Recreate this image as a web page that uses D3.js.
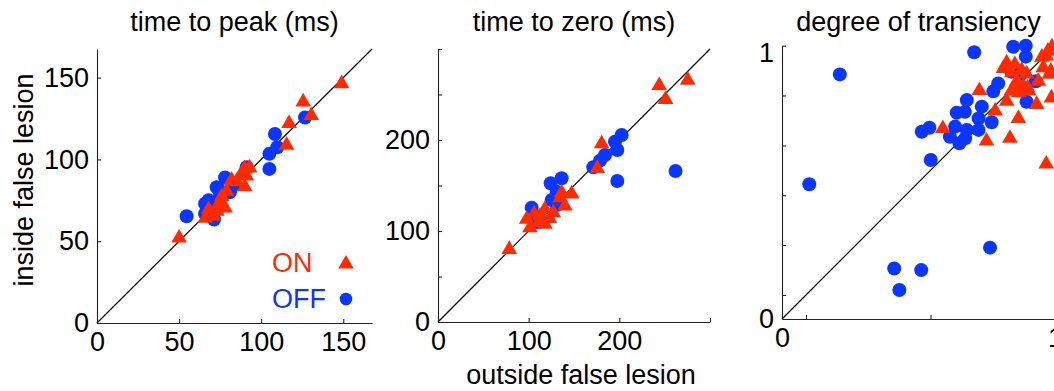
<!DOCTYPE html>
<html>
<head>
<meta charset="utf-8">
<script src="https://cdn.jsdelivr.net/npm/d3@7"></script>
<style>
  body { margin: 0; background: #fff; }
  svg { display: block; }
  text { font-family: "Liberation Sans", Arial, Helvetica, sans-serif; }
</style>
</head>
<body>
<svg id="chart" width="1054" height="391"></svg>
<script>
// ---- data ----
const titles = ['time to peak (ms)', 'time to zero (ms)', 'degree of transiency'];
const legendLabels = ['ON', 'OFF'];

// time to peak : [outside, inside]
const peakOn = [[149,147],[125.6,135.8],[130.5,127.5],[117,122.6],[115.5,109.4],[50,52.6],
  [90,95],[93,95.5],[88,92],[91,90.5],[90,84],[85,87],[79,81],[76,78],[75,75],[78,71],
  [66,64.7],[73,69],[68,70],[82,88],[74,73],[71,66]];
const peakOff = [[54.6,65.3],[65.8,72.9],[65.8,66.8],[71.3,63.3],[72.9,83],[78,89],[81,80],
  [91.2,95.2],[105,103.4],[105,94.2],[108.4,115.5],[109.8,107.4],[126.7,125.6],[68,75],
  [70,70],[75,78],[84,85],[74,82]];

// time to zero
const zeroOn = [[244,261],[275.4,267],[251,245.8],[180.5,197],[175.7,170],[78.6,81],
  [136.4,143.2],[147.5,142],[134.6,137.7],[118,125],[112.5,117.6],[97.8,114],[101.5,104.7],
  [118,108.5],[127.2,121.2],[140,128.6],[110.6,110.2],[106,120],[123,115]];
const zeroOff = [[202.6,205.5],[195.2,198],[197.8,189],[184.2,183.5],[178.7,177.3],[171.3,170],
  [197.8,155],[262,166],[124.3,152.4],[136.4,158],[131,143.2],[125.4,134],[131,128.6],
  [103.3,125.6],[108.9,115.7],[110.6,109.6]];

// degree of transiency
const transOn = [[0.589,0.701],[0.723,0.84],[0.749,0.655],[0.781,0.765],[0.823,0.801],
  [0.835,0.665],[0.866,0.738],[0.933,0.789],[0.968,0.571],[0.987,0.813],[0.823,0.941],
  [0.853,0.935],[0.811,0.921],[0.842,0.905],[0.878,0.914],[0.896,0.901],[0.86,0.874],
  [0.884,0.856],[0.903,0.838],[0.866,0.832],[0.952,0.962],[0.974,0.984],[0.989,1.0],
  [0.957,0.923],[0.939,0.874],[0.985,0.911],[0.969,0.966],[0.86,0.862],[0.84,0.838],
  [0.9,0.85],[0.98,0.9]];
const transOff = [[0.1,0.493],[0.212,0.895],[0.704,0.976],[0.411,0.185],[0.43,0.106],
  [0.51,0.179],[0.762,0.261],[0.545,0.582],[0.512,0.685],[0.54,0.7],[0.615,0.667],
  [0.634,0.704],[0.65,0.643],[0.677,0.692],[0.671,0.661],[0.64,0.755],[0.67,0.758],
  [0.677,0.801],[0.72,0.692],[0.72,0.734],[0.732,0.777],[0.768,0.72],[0.774,0.833],
  [0.792,0.862],[0.847,0.996],[0.893,1.0],[0.893,0.96],[0.84,0.905],[0.896,0.795],
  [0.93,0.87],[0.872,0.893]];

// ticks / labels
const ticks = [
  { x: [0, 50, 100, 150], y: [0, 50, 100, 150], xLab: [0, 50, 100, 150], yLab: [0, 50, 100, 150] },
  { x: [0, 100, 200, 300], y: [0, 50, 100, 150, 200, 250, 300], xLab: [0, 100, 200], yLab: [0, 100, 200] },
  { x: [0.088, 0.544, 1], y: [0.088, 0.271, 0.453, 0.635, 0.818, 1], xLab: [0, 1], yLab: [0, 1] }
];
const domains = [[0, 167.5], [0, 300], [0, 1]];

// ---- layout ----
const RED = '#ff2b00';
const BLUE = '#0a36ff';
const FS = 27;
const panels = [
  { left: 97,  top: 49,   w: 275, h: 274,   on: peakOn,  off: peakOff },
  { left: 438, top: 49,   w: 272, h: 273,   on: zeroOn,  off: zeroOff },
  { left: 782, top: 45.7, w: 273, h: 273.3, on: transOn, off: transOff }
];

const svg = d3.select('#chart');

// 삼각형 마커
const triPath = 'M0,-8 L7.8,5.6 L-7.8,5.6 Z';

panels.forEach(function(p, i) {
  const x = d3.scaleLinear().domain(domains[i]).range([p.left, p.left + p.w]);
  const y = d3.scaleLinear().domain(domains[i]).range([p.top + p.h, p.top]);
  const t = ticks[i];
  const g = svg.append('g');

  // ticks (inward)
  g.append('g')
    .attr('transform', 'translate(0,' + y(0) + ')')
    .call(d3.axisBottom(x).tickValues(t.x).tickSize(-4).tickSizeOuter(0).tickFormat(''));
  g.append('g')
    .attr('transform', 'translate(' + x(0) + ',0)')
    .call(d3.axisLeft(y).tickValues(t.y).tickSize(-4).tickSizeOuter(0).tickFormat(''));

  // labels
  g.append('g')
    .attr('transform', 'translate(0,' + y(0) + ')')
    .call(d3.axisBottom(x).tickValues(t.xLab).tickSize(0).tickPadding(9).tickFormat(d3.format('d')))
    .call(s => s.select('.domain').remove());
  const yl = g.append('g')
    .attr('transform', 'translate(' + x(0) + ',0)')
    .call(d3.axisLeft(y).tickValues(t.yLab).tickSize(0).tickPadding(8).tickFormat(d3.format('d')))
    .call(s => s.select('.domain').remove());

  g.selectAll('.tick text').attr('font-size', FS).attr('fill', '#000')
    .style('font-family', '"Liberation Sans", Arial, sans-serif');
  g.selectAll('.domain, .tick line').attr('stroke', '#222').attr('stroke-width', 1.1);

  if(i === 2) {	// 위쪽 1 라벨 약간 아래로
    yl.selectAll('.tick text').filter(d => d === 1).attr('dy', '0.6em');
  }

  // diagonal
  g.append('line')
    .attr('x1', x(domains[i][0])).attr('y1', y(domains[i][0]))
    .attr('x2', x(domains[i][1])).attr('y2', y(domains[i][1]))
    .attr('stroke', '#000').attr('stroke-width', 1.2);

  // OFF circles
  g.selectAll('circle.off').data(p.off).enter().append('circle')
    .attr('class', 'off')
    .attr('cx', d => x(d[0])).attr('cy', d => y(d[1]))
    .attr('r', 7).attr('fill', BLUE);

  // ON triangles
  g.selectAll('path.on').data(p.on).enter().append('path')
    .attr('class', 'on')
    .attr('d', triPath)
    .attr('transform', d => 'translate(' + x(d[0]) + ',' + y(d[1]) + ')')
    .attr('fill', RED);

  // title
  svg.append('text')
    .attr('x', p.left + p.w / 2).attr('y', 31)
    .attr('text-anchor', 'middle').attr('font-size', FS)
    .text(titles[i]);
});

// axis titles
svg.append('text')
  .attr('transform', 'translate(33,180) rotate(-90)')
  .attr('text-anchor', 'middle').attr('font-size', FS)
  .text('inside false lesion');
svg.append('text')
  .attr('x', 581).attr('y', 384)
  .attr('text-anchor', 'middle').attr('font-size', FS)
  .text('outside false lesion');

// legend
const leg = svg.append('g');
leg.append('text').attr('x', 272).attr('y', 272).attr('font-size', FS).attr('fill', RED).text(legendLabels[0]);
leg.append('text').attr('x', 272).attr('y', 308).attr('font-size', FS).attr('fill', BLUE).text(legendLabels[1]);
leg.append('path').attr('d', triPath).attr('transform', 'translate(346,263)').attr('fill', RED);
leg.append('circle').attr('cx', 346).attr('cy', 299).attr('r', 6.3).attr('fill', BLUE);
</script>
</body>
</html>
